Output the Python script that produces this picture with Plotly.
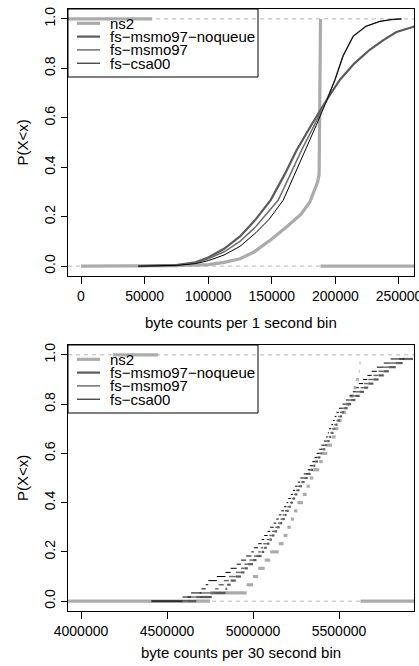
import plotly.graph_objects as go

# ---------------- data ----------------
series_names = ["ns2", "fs\u2212msmo97\u2212noqueue", "fs\u2212msmo97", "fs\u2212csa00"]

# Top panel: CDF of byte counts per 1 second bin (smooth curves)
ns2_1s_x = [0, 50000, 75000, 100000, 112500, 125000, 136000, 150000, 162000, 173000,
            180000, 183000, 186000, 187200, 187800, 188300]
ns2_1s_y = [0, 0.0, 0.002, 0.006, 0.015, 0.03, 0.057, 0.11, 0.16, 0.21,
            0.26, 0.30, 0.34, 0.37, 0.6, 1.0]
ns2_1s_hi_tail_x = [-10200, 56000]       # stray segment at P=1
ns2_1s_lo_tail_x = [188300, 262000]      # stray segment at P=0

noq_1s_x = [45000, 75000, 90000, 100000, 112500, 125000, 137500, 149100, 160000, 169600,
            181000, 193100, 203600, 215000, 227000, 238000, 248000, 262500]
noq_1s_y = [0, 0.004, 0.015, 0.035, 0.07, 0.12, 0.19, 0.267, 0.37, 0.47,
            0.57, 0.672, 0.754, 0.82, 0.875, 0.915, 0.947, 0.97]

msmo_1s_x = [45000, 75000, 90000, 100000, 112500, 125000, 137500, 146000, 155100, 164000,
             173500, 183000, 193100, 199700, 206000, 214000, 224000, 235000, 245000, 252000]
msmo_1s_y = [0, 0.004, 0.013, 0.03, 0.058, 0.1, 0.16, 0.21, 0.267, 0.365,
             0.47, 0.565, 0.672, 0.754, 0.85, 0.93, 0.97, 0.99, 0.998, 1.0]

csa_1s_x = [45000, 75000, 90000, 100000, 112500, 125000, 137500, 148000, 159000, 168000,
            176100, 185000, 193400, 199700, 206000, 214000, 224000, 235000, 245000, 252000]
csa_1s_y = [0, 0.003, 0.01, 0.022, 0.045, 0.08, 0.135, 0.19, 0.267, 0.37,
            0.47, 0.57, 0.672, 0.754, 0.85, 0.93, 0.97, 0.99, 0.998, 1.0]

# Bottom panel: sorted samples of byte counts per 30 second bin (millions of bytes)
ns2_30s = [4.750, 4.963, 5.000, 5.030, 5.068, 5.100, 5.150, 5.178, 5.200, 5.220,
           5.238, 5.258, 5.290, 5.312, 5.330, 5.350, 5.385, 5.405, 5.432, 5.460,
           5.480, 5.496, 5.515, 5.540, 5.565, 5.585, 5.600, 5.615, 5.620, 5.625]
csa_30s = [4.590, 4.640, 4.700, 4.725, 4.740, 4.790, 4.840, 4.870, 4.905, 4.930,
           4.960, 4.990, 5.005, 5.030, 5.050, 5.065, 5.085, 5.100, 5.120, 5.135,
           5.150, 5.165, 5.180, 5.195, 5.205, 5.220, 5.232, 5.245, 5.260, 5.275,
           5.295, 5.318, 5.330, 5.345, 5.358, 5.370, 5.385, 5.398, 5.412, 5.425,
           5.435, 5.442, 5.455, 5.465, 5.475, 5.485, 5.500, 5.520, 5.540, 5.560,
           5.580, 5.600, 5.615, 5.640, 5.665, 5.690, 5.720, 5.760, 5.800, 5.880]
msmo_30s = [4.620, 4.690, 4.780, 4.800, 4.830, 4.860, 4.900, 4.930, 4.950, 4.980,
            5.005, 5.030, 5.045, 5.060, 5.080, 5.095, 5.110, 5.130, 5.145, 5.160,
            5.172, 5.185, 5.200, 5.215, 5.225, 5.238, 5.250, 5.262, 5.280, 5.295,
            5.310, 5.325, 5.340, 5.352, 5.365, 5.380, 5.395, 5.410, 5.425, 5.440,
            5.450, 5.460, 5.472, 5.485, 5.495, 5.505, 5.520, 5.540, 5.560, 5.580,
            5.600, 5.625, 5.645, 5.670, 5.700, 5.730, 5.760, 5.800, 5.850, 5.920]
noq_30s = [4.670, 4.760, 4.840, 4.850, 4.870, 4.900, 4.930, 4.950, 4.970, 5.000,
           5.020, 5.050, 5.065, 5.080, 5.095, 5.110, 5.125, 5.140, 5.155, 5.170,
           5.185, 5.195, 5.208, 5.220, 5.232, 5.245, 5.258, 5.270, 5.285, 5.300,
           5.318, 5.335, 5.350, 5.362, 5.378, 5.392, 5.405, 5.420, 5.432, 5.445,
           5.455, 5.468, 5.480, 5.492, 5.505, 5.518, 5.530, 5.550, 5.570, 5.595,
           5.620, 5.645, 5.670, 5.700, 5.730, 5.760, 5.790, 5.830, 5.870, 5.930]
ns2_30s_left_start = 3.926
fs_30s_left_start = 4.410
ns2_30s_hi_tail = [4.186, 4.448]
ns2_30s_lo_tail_end = 5.936

x1_ticks = [0, 50000, 100000, 150000, 200000, 250000]
x2_ticks = [4000000, 4500000, 5000000, 5500000]
y_ticks = [0.0, 0.2, 0.4, 0.6, 0.8, 1.0]

# ---------------- styles ----------------
W, H = 419, 666
FONT = "Liberation Sans, Arial, Helvetica, sans-serif"
styles = [dict(color="#ababab", width=3.2),
          dict(color="#5a5a5a", width=2.2),
          dict(color="#6e6e6e", width=1.5),
          dict(color="#000000", width=1.0)]


def ecdf_segments(samples_m, left_start_m):
    """horizontal-only step segments of an empirical CDF (R plot.ecdf style)"""
    n = len(samples_m)
    xs, ys = [], []
    prev = left_start_m
    for k, s in enumerate(samples_m):
        xs += [prev * 1e6, s * 1e6, None]
        ys += [k / n, k / n, None]
        prev = s
    return xs, ys


fig = go.Figure()

# top panel
fig.add_trace(go.Scatter(x=ns2_1s_x + [None] + ns2_1s_hi_tail_x + [None] + ns2_1s_lo_tail_x,
                         y=ns2_1s_y + [None, 1, 1, None, 0, 0],
                         mode="lines", line=styles[0], xaxis="x", yaxis="y"))
for xs, ys, st in [(noq_1s_x, noq_1s_y, styles[1]), (msmo_1s_x, msmo_1s_y, styles[2]),
                   (csa_1s_x, csa_1s_y, styles[3])]:
    fig.add_trace(go.Scatter(x=xs, y=ys, mode="lines", line=st, xaxis="x", yaxis="y"))

# bottom panel
nx, ny = ecdf_segments(ns2_30s, ns2_30s_left_start)
nx += [ns2_30s_hi_tail[0] * 1e6, ns2_30s_hi_tail[1] * 1e6, None,
       ns2_30s[-1] * 1e6, ns2_30s_lo_tail_end * 1e6]
ny += [1, 1, None, 0, 0]
fig.add_trace(go.Scatter(x=nx, y=ny, mode="lines", line=styles[0], xaxis="x2", yaxis="y2"))
for samples, st in [(noq_30s, styles[1]), (msmo_30s, styles[2]), (csa_30s, styles[3])]:
    sx, sy = ecdf_segments(samples, fs_30s_left_start)
    fig.add_trace(go.Scatter(x=sx, y=sy, mode="lines", line=st, xaxis="x2", yaxis="y2"))


def px(x):
    return x / W


def py(y):
    return 1 - y / H


xdom = [px(68), px(414)]
axis_common = dict(showgrid=False, zeroline=False, showline=True, mirror=True,
                   linecolor="black", linewidth=1, ticks="outside", tickcolor="black",
                   tickwidth=1, automargin=False, ticklabeloverflow="allow",
                   tickfont=dict(family=FONT, size=14, color="black"))

fig.update_layout(
    template="none",
    width=W, height=H, margin=dict(l=0, r=0, t=0, b=0, pad=0),
    paper_bgcolor="white", plot_bgcolor="white", showlegend=False,
    xaxis=dict(domain=xdom, range=[-10220, 261800], tickvals=x1_ticks,
               ticktext=[str(v) for v in x1_ticks], ticklen=7, anchor="y", **axis_common),
    yaxis=dict(domain=[py(276), py(9)], range=[-0.04, 1.04], tickvals=y_ticks,
               ticktext=["%.1f" % v for v in y_ticks], tickangle=-90, ticklen=6,
               anchor="x", **axis_common),
    xaxis2=dict(domain=xdom, range=[3924400, 5936000], tickvals=x2_ticks,
                ticktext=[str(v) for v in x2_ticks], ticklen=7, anchor="y2", **axis_common),
    yaxis2=dict(domain=[py(611), py(345)], range=[-0.04, 1.04], tickvals=y_ticks,
                ticktext=["%.1f" % v for v in y_ticks], tickangle=-90, ticklen=6,
                anchor="x2", **axis_common),
)

shapes = []
annotations = []
for xa, ya in [("x", "y"), ("x2", "y2")]:
    for yv in (0, 1):
        shapes.append(dict(type="line", xref=xa + " domain", yref=ya, x0=0, x1=1, y0=yv, y1=yv,
                           line=dict(color="#b4b4b4", width=1, dash="4px,4px"), layer="below"))

for top, title, ycenter, ytitle in [(9, "byte counts per 1 second bin", 142.5, 322),
                                    (345, "byte counts per 30 second bin", 478, 652)]:
    # legend box
    shapes.append(dict(type="rect", xref="paper", yref="paper", x0=px(68), x1=px(258),
                       y0=py(top + 68), y1=py(top), line=dict(color="black", width=1),
                       fillcolor="rgba(0,0,0,0)", layer="above"))
    for i, (name, st) in enumerate(zip(series_names, styles)):
        yy = top + 14.3 + 13.3 * i
        shapes.append(dict(type="line", xref="paper", yref="paper", x0=px(77), x1=px(100),
                           y0=py(yy), y1=py(yy), line=st, layer="above"))
        annotations.append(dict(text=name, xref="paper", yref="paper", x=px(108), y=py(yy),
                                xanchor="left", yanchor="middle", showarrow=False,
                                font=dict(family=FONT, size=15, color="black")))
    annotations.append(dict(text=title, xref="paper", yref="paper", x=px(241), y=py(ytitle),
                            xanchor="center", yanchor="middle", showarrow=False,
                            font=dict(family=FONT, size=15, color="black")))
    annotations.append(dict(text="P(X<x)", xref="paper", yref="paper", x=px(22), y=py(ycenter),
                            xanchor="center", yanchor="middle", showarrow=False, textangle=-90,
                            font=dict(family=FONT, size=15, color="black")))

fig.update_layout(shapes=shapes, annotations=annotations)
fig.write_html("out.html", config={"displayModeBar": False},
               post_script="document.body.style.margin='0';"
                           "document.body.style.overflow='hidden';")
